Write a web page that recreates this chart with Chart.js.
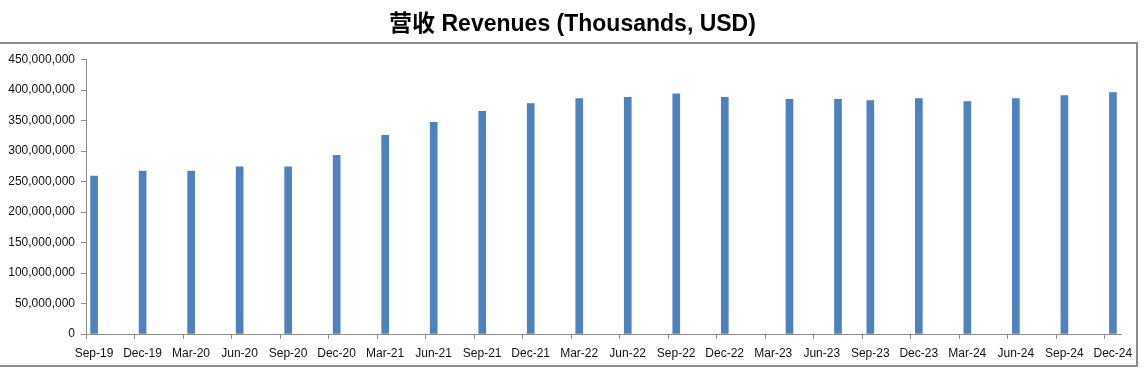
<!DOCTYPE html>
<html>
<head>
<meta charset="utf-8">
<script src="https://cdn.jsdelivr.net/npm/chart.js@4"></script>
<style>
    html, body { margin: 0; padding: 0; background: #fff; }
    #wrap { position: relative; width: 1145px; height: 375px; }
    #frame {
        position: absolute; left: -2px; top: 42px; width: 1140px; height: 325px;
        border: 2px solid #8c8c8c; pointer-events: none; box-sizing: border-box;
    }
</style>
</head>
<body>
<div id="wrap">
    <canvas id="chartRevenue" width="1145" height="375"></canvas>
    <div id="frame"></div>
</div>
<script>
// months counted from Sep-19 (Sep-19 = 0)
const periodMonths = [0, 3, 6, 9, 12, 15, 18, 21, 24, 27, 30, 33, 36, 39, 43, 46, 48, 51, 54, 57, 60, 63];
const revenues = [
    259000000, 267000000, 267000000, 274000000, 274000000, 293000000,
    326000000, 347000000, 365000000, 378000000, 386000000, 388000000,
    394000000, 388000000, 385000000, 385000000, 383000000, 386000000,
    381000000, 386000000, 391000000, 396000000,
];
const tickLabels = [
    "Sep-19", "Dec-19", "Mar-20", "Jun-20", "Sep-20", "Dec-20", "Mar-21", "Jun-21",
    "Sep-21", "Dec-21", "Mar-22", "Jun-22", "Sep-22", "Dec-22", "Mar-23", "Jun-23",
    "Sep-23", "Dec-23", "Mar-24", "Jun-24", "Sep-24", "Dec-24",
];

const el = (id) => document.getElementById(id);
const tickFont = { family: '"Liberation Sans", sans-serif', size: 12 };
const axisGrey = "#8c8c8c";

new Chart(el("chartRevenue").getContext("2d"), {
    type: "bar",
    data: {
        datasets: [{
            label: "Revenues",
            data: periodMonths.map((m, i) => ({ x: m, y: revenues[i] })),
            backgroundColor: "#4f81bd",
            barThickness: 7,
        }],
    },
    options: {
        responsive: false,
        animation: false,
        layout: { padding: 0 },
        scales: {
            x: {
                type: "linear",
                offset: false,
                min: -0.5,
                max: 63.5,
                afterBuildTicks: (scale) => {
                    scale.ticks = tickLabels.map((_, i) => ({ value: i * 3 - 0.5 }));
                },
                afterFit: (scale) => { scale.height = 41; },
                ticks: {
                    autoSkip: false,
                    maxRotation: 0,
                    labelOffset: 8,
                    padding: 7,
                    color: "#111",
                    font: tickFont,
                    callback: (v, i) => tickLabels[i],
                },
                grid: { drawOnChartArea: false, offset: false, tickLength: 5, color: axisGrey },
                border: { color: axisGrey },
            },
            y: {
                min: 0,
                max: 450000000,
                afterFit: (scale) => { scale.width = 86; },
                ticks: {
                    stepSize: 50000000,
                    padding: 6,
                    color: "#111",
                    font: tickFont,
                    callback: (v) => v.toLocaleString("en-US"),
                },
                grid: { drawOnChartArea: false, tickLength: 5, color: axisGrey },
                border: { color: axisGrey },
            },
            // empty spacer on the right so the title stays centred on the page
            spacer: {
                position: "right",
                afterFit: (scale) => { scale.width = 24; },
                ticks: { display: false },
                grid: { display: false },
                border: { display: false },
            },
        },
        plugins: {
            legend: { display: false },
            tooltip: { enabled: false },
            title: {
                display: true,
                text: "营收 Revenues (Thousands, USD)",
                color: "#000",
                font: { family: '"Liberation Sans", "Noto Sans CJK SC", sans-serif', size: 23, weight: "bold" },
                padding: { top: 11, bottom: 21 },
            },
        },
    },
});
</script>
</body>
</html>
